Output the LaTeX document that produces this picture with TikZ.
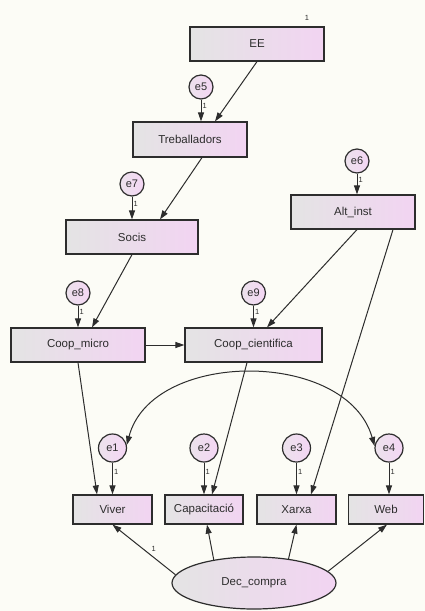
\documentclass[tikz,border=0pt]{standalone}
\usepackage{fontspec}
\setmainfont{Liberation Sans}
\usetikzlibrary{arrows.meta,shapes.geometric}
\definecolor{bg}{RGB}{252,252,246}
\definecolor{shadeL}{RGB}{228,228,228}
\definecolor{shadeR}{RGB}{242,212,242}
\definecolor{circL}{RGB}{236,226,236}
\definecolor{circR}{RGB}{244,214,244}
\definecolor{ink}{RGB}{45,45,45}
\begin{document}
\begin{tikzpicture}[x=1pt,y=-1pt,
  obs/.style={rectangle, draw=ink, line width=1.2pt, left color=shadeL, right color=shadeR,
    inner sep=0pt, font=\fontsize{11.5}{13}\selectfont, text=ink},
  err/.style={circle, draw=ink, line width=1.2pt, left color=circL, right color=circR,
    inner sep=0pt, minimum size=#1, font=\fontsize{11}{12}\selectfont, text=ink},
  lat/.style={ellipse, draw=ink, line width=1.2pt, left color=shadeL, right color=shadeR,
    inner sep=0pt, minimum width=164pt, minimum height=52pt,
    font=\fontsize{11.5}{13}\selectfont, text=ink},
  arr/.style={draw=ink, line width=1pt, -{Triangle[length=9pt,width=6pt]}},
  cov/.style={draw=ink, line width=1pt,
    {Triangle[length=9pt,width=6pt]}-{Triangle[length=9pt,width=6pt]}},
  lab/.style={font=\fontsize{7.5}{8}\selectfont, text=ink, inner sep=1pt}
]
% canvas
\path[fill=bg] (0,0) rectangle (425,611);

% observed variables
\node[obs, minimum width=134pt, minimum height=34pt] (EE)    at (257,44)    {EE};
\node[obs, minimum width=114pt, minimum height=35pt] (Treb)  at (190,139.5) {Treballadors};
\node[obs, minimum width=132pt, minimum height=34pt] (Socis) at (132,237)   {Socis};
\node[obs, minimum width=124pt, minimum height=34pt] (Alt)   at (353,212)   {Alt\_inst};
\node[obs, minimum width=134pt, minimum height=34pt] (Cm)    at (78,345)    {Coop\_micro};
\node[obs, minimum width=137pt, minimum height=34pt] (Cc)    at (253.5,345) {Coop\_cientifica};
\node[obs, minimum width=79pt, minimum height=29pt]  (Viver) at (112.5,509.5) {Viver};
\node[obs, minimum width=78pt, minimum height=29pt]  (Cap)   at (204,509.5) {Capacitació};
\node[obs, minimum width=79pt, minimum height=29pt]  (Xarxa) at (296.5,509.5) {Xarxa};
\node[obs, minimum width=75pt, minimum height=29pt]  (Web)   at (386,509.5) {Web};

% latent variable
\node[lat] (D) at (254,583) {Dec\_compra};

% error terms
\node[err=24pt] (e5) at (201,87)    {e5};
\node[err=24pt] (e7) at (132,184)   {e7};
\node[err=24pt] (e6) at (357,161)   {e6};
\node[err=24pt] (e8) at (78,293)    {e8};
\node[err=24pt] (e9) at (253.5,293) {e9};
\node[err=28pt] (e1) at (112.5,448) {e1};
\node[err=28pt] (e2) at (204,448)   {e2};
\node[err=28pt] (e3) at (296.5,448) {e3};
\node[err=28pt] (e4) at (389,448)   {e4};

% variance label
\node[lab] (v1) at (307,18) {1};

% structural paths
\draw[arr] (EE.south) -- ([xshift=25pt]Treb.north);
\draw[arr] ([xshift=12pt]Treb.south) -- ([xshift=28pt]Socis.north);
\draw[arr] (Socis.south) -- ([xshift=14pt]Cm.north);
\draw[arr] ([xshift=4pt]Alt.south) -- ([xshift=13.5pt]Cc.north);
\draw[arr] ([xshift=40pt]Alt.south) -- ([xshift=14.5pt]Xarxa.north);
\draw[arr] (Cm.east) -- (Cc.west);
\draw[arr] (Cm.south) -- ([xshift=-15.5pt]Viver.north);
\draw[arr] ([xshift=-6.5pt]Cc.south) -- ([xshift=8pt]Cap.north);

% error paths
\draw[arr] (e5.south) -- node[lab, pos=0.3, right] {1} ([xshift=11pt]Treb.north);
\draw[arr] (e7.south) -- node[lab, pos=0.3, right] {1} (Socis.north);
\draw[arr] (e6.south) -- node[lab, pos=0.3, right] {1} ([xshift=4pt]Alt.north);
\draw[arr] (e8.south) -- node[lab, pos=0.3, right] {1} (Cm.north);
\draw[arr] (e9.south) -- node[lab, pos=0.3, right] {1} (Cc.north);
\draw[arr] (e1.south) -- node[lab, pos=0.3, right] {1} (Viver.north);
\draw[arr] (e2.south) -- node[lab, pos=0.3, right] {1} (Cap.north);
\draw[arr] (e3.south) -- node[lab, pos=0.3, right] {1} (Xarxa.north);
\draw[arr] (e4.south) -- node[lab, pos=0.3, right] {1} ([xshift=3pt]Web.north);

% measurement paths
\draw[arr] (D.174) -- node[lab, pos=0.42, above right=1pt] {1} (Viver.south);
\draw[arr] (D.150) -- ([xshift=3pt]Cap.south);
\draw[arr] (D.35) -- (Xarxa.south);
\draw[arr] (D.9) -- ([xshift=1pt]Web.south);

% covariance
\draw[cov] (e1.12) .. controls (152,349) and (347,349) .. (e4.172);
\end{tikzpicture}
\end{document}
